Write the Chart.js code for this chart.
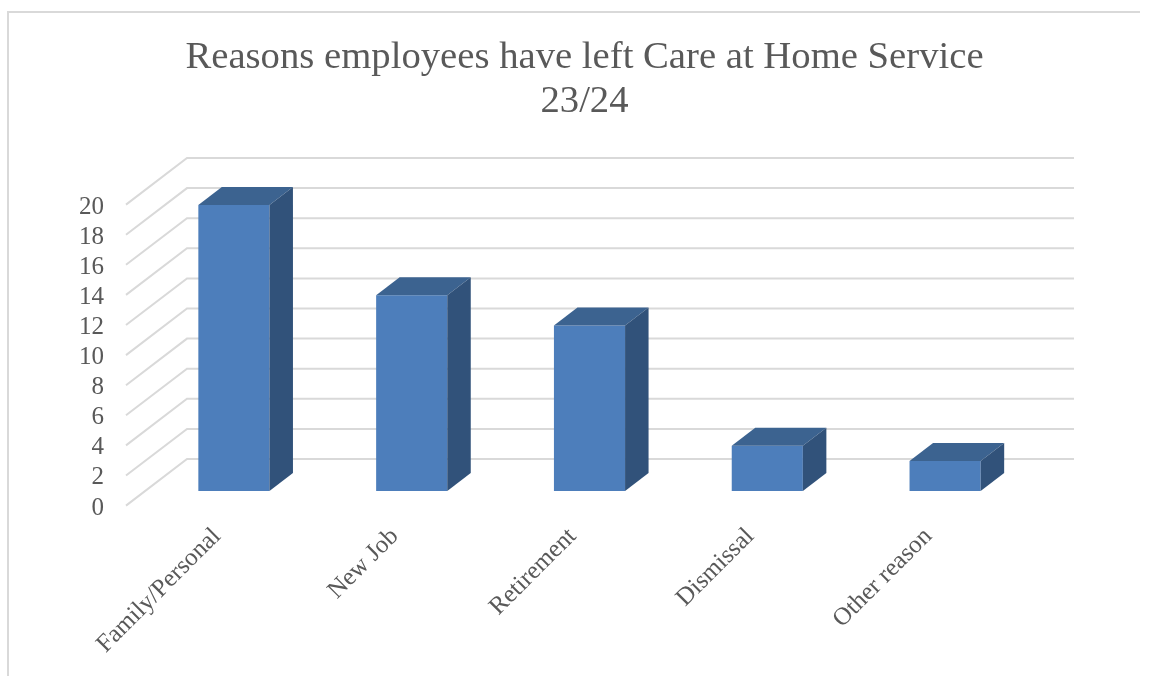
<!DOCTYPE html>
<html>
<head>
<meta charset="utf-8">
<title>Reasons employees have left</title>
<script src="https://cdn.jsdelivr.net/npm/chart.js@4"></script>
<style>
  html, body { margin: 0; padding: 0; background: #fff; overflow: hidden; }
  #frame { position: absolute; left: 7px; top: 11px; width: 1131px; height: 665px;
           border-left: 2px solid #d9d9d9; border-top: 2px solid #d9d9d9; }
  #holder { position: absolute; left: 0; top: 12px; width: 1149px; height: 664px; }
</style>
</head>
<body>
<div id="frame"></div>
<div id="holder"><canvas id="grafico"></canvas></div>
<script>
// Data
const categorias = ['Family/Personal', 'New Job', 'Retirement', 'Dismissal', 'Other reason'];
const saidas = [19, 13, 11, 3, 2];
const titulo = ['Reasons employees have left Care at Home Service', '23/24'];

// Fake 3D box: walls and floor around the bars
const fonte = 'Liberation Serif';
const corTexto = '#595959';
const corGrade = '#d9d9d9';
const parede = { frenteX: -19, frenteY: 14.6, fundoX: 42, fundoY: -32, fimX: 40 };
const caixa = { dx: 23.5, dy: -18, topo: '#3c6390', lado: '#31527a' };

const tresD = {
    id: 'tresD',
    // the title box stops at the plot's right edge, so push it back to the middle
    afterLayout(chart) {
        chart.titleBlock.left += 67.5;
        chart.titleBlock.right += 67.5;
    },
    // gridlines run from the front edge, back to the wall, then across it
    beforeDatasetsDraw(chart) {
        const { ctx, chartArea, scales } = chart;
        ctx.save();
        ctx.strokeStyle = corGrade;
        ctx.lineWidth = 2;
        scales.y.ticks.forEach(t => {
            const py = scales.y.getPixelForValue(t.value);
            ctx.beginPath();
            ctx.moveTo(chartArea.left + parede.frenteX, py + parede.frenteY);
            ctx.lineTo(chartArea.left + parede.fundoX, py + parede.fundoY);
            ctx.lineTo(chartArea.right + parede.fimX, py + parede.fundoY);
            ctx.stroke();
        });
        ctx.restore();
    },
    // top and side faces of each bar
    afterDatasetsDraw(chart) {
        const { ctx } = chart;
        ctx.save();
        chart.getDatasetMeta(0).data.forEach(b => {
            const esq = b.x - b.width / 2, dir = b.x + b.width / 2;
            ctx.fillStyle = caixa.topo;
            ctx.beginPath();
            ctx.moveTo(esq, b.y);
            ctx.lineTo(esq + caixa.dx, b.y + caixa.dy);
            ctx.lineTo(dir + caixa.dx, b.y + caixa.dy);
            ctx.lineTo(dir, b.y);
            ctx.closePath();
            ctx.fill();
            ctx.fillStyle = caixa.lado;
            ctx.beginPath();
            ctx.moveTo(dir, b.y);
            ctx.lineTo(dir + caixa.dx, b.y + caixa.dy);
            ctx.lineTo(dir + caixa.dx, b.base + caixa.dy);
            ctx.lineTo(dir, b.base);
            ctx.closePath();
            ctx.fill();
        });
        ctx.restore();
    }
};

new Chart(document.getElementById('grafico'), {
    type: 'bar',
    data: {
        labels: categorias,
        datasets: [{
            data: saidas,
            backgroundColor: '#4d7ebb',
            barPercentage: 0.4,
            categoryPercentage: 1
        }]
    },
    options: {
        responsive: true,
        maintainAspectRatio: false,
        animation: false,
        layout: { padding: { right: 115 } },
        plugins: {
            legend: { display: false },
            tooltip: { enabled: false },
            title: {
                display: true,
                text: titulo,
                color: corTexto,
                font: { family: fonte, size: 38.7, weight: 'normal', lineHeight: '44px' },
                padding: { top: 24, bottom: 66 }
            }
        },
        scales: {
            x: {
                afterFit(s) { s.height = 185; },
                grid: { display: false },
                border: { display: false },
                ticks: {
                    color: corTexto,
                    font: { family: fonte, size: 25 },
                    minRotation: 45,
                    maxRotation: 45,
                    labelOffset: -17,
                    padding: 23,
                    autoSkip: false
                }
            },
            y: {
                min: 0,
                max: 20,
                afterFit(s) { s.width = 145; },
                grid: { display: false },
                border: { display: false },
                ticks: {
                    stepSize: 2,
                    autoSkip: false,
                    color: corTexto,
                    font: { family: fonte, size: 25 },
                    padding: 33,
                    labelOffset: 17
                }
            }
        }
    },
    plugins: [tresD]
});
</script>
</body>
</html>
